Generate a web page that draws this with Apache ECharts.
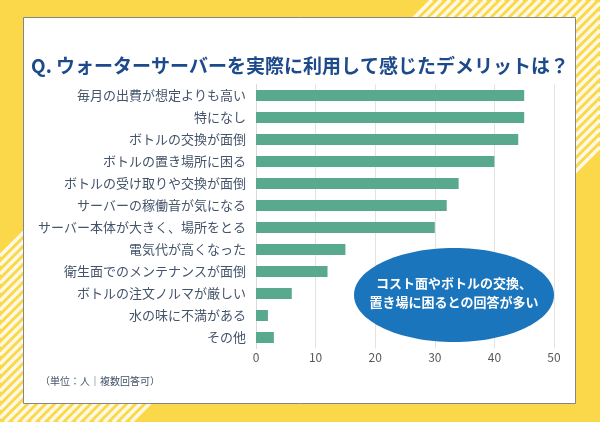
<!DOCTYPE html>
<html>
<head>
<meta charset="utf-8">
<script src="https://cdn.jsdelivr.net/npm/echarts@6/dist/echarts.min.js"></script>
<style>
html,body{margin:0;padding:0;background:#fad84a;}
#chart{width:600px;height:422px;}
</style>
</head>
<body>
<div id="chart"></div>
<script>
const titleText = 'Q. ウォーターサーバーを実際に利用して感じたデメリットは？';
const categories = [
  '毎月の出費が想定よりも高い',
  '特になし',
  'ボトルの交換が面倒',
  'ボトルの置き場所に困る',
  'ボトルの受け取りや交換が面倒',
  'サーバーの稼働音が気になる',
  'サーバー本体が大きく、場所をとる',
  '電気代が高くなった',
  '衛生面でのメンテナンスが面倒',
  'ボトルの注文ノルマが厳しい',
  '水の味に不満がある',
  'その他'
];
const values = [45, 45, 44, 40, 34, 32, 30, 15, 12, 6, 2, 3];
const axisTicks = [0, 10, 20, 30, 40, 50];
const calloutText = 'コスト面やボトルの交換、\n置き場に困るとの回答が多い';
const noteText = '（単位：人｜複数回答可）';

const FONT = '"Noto Sans CJK JP", "Noto Sans", sans-serif';

// decorative stripes
const stripes = [];
function addStripe(c, yMin, yMax) {
  const y0 = Math.max(yMin, c - 600, 0);
  const y1 = Math.min(yMax, c, 422);
  if (y1 <= y0) return;
  stripes.push({
    type: 'line', z: -9,
    shape: { x1: c - y0, y1: y0, x2: c - y1, y2: y1 },
    style: { stroke: 'rgba(255,255,255,0.85)', lineWidth: 3.6 },
    silent: true
  });
}
for (let c = 432; c <= 750; c += 9) addStripe(c, 0, 200);
for (let c = 256; c <= 556; c += 9) addStripe(c, 200, 422);

const chart = echarts.init(document.getElementById('chart'));
chart.setOption({
  backgroundColor: '#fad84a',
  animation: false,
  title: {
    text: titleText,
    left: 26, top: 51,
    textStyle: { fontFamily: FONT, fontSize: 19, fontWeight: 'bold', color: '#1c4a8a' }
  },
  grid: { left: 256, right: 46, top: 84.5, bottom: 73.5, containLabel: false },
  xAxis: {
    type: 'value', min: 0, max: axisTicks[axisTicks.length - 1], interval: 10,
    axisLine: { show: false }, axisTick: { show: false },
    splitLine: { lineStyle: { color: '#e3e3e3', width: 1 } },
    axisLabel: { margin: 3, fontFamily: FONT, fontSize: 12, color: '#595959' }
  },
  yAxis: {
    type: 'category', data: categories, inverse: true,
    axisLine: { show: true, lineStyle: { color: '#d9d9d9' } },
    axisTick: { show: false },
    axisLabel: { margin: 10, fontFamily: FONT, fontSize: 13, color: '#44546a' }
  },
  series: [{
    type: 'bar', data: values, barWidth: 11,
    itemStyle: { color: '#59a98e' }, silent: true
  }],
  graphic: [
    ...stripes,
    {
      type: 'rect', z: -8,
      shape: { x: 23.5, y: 17.5, width: 552, height: 386 },
      style: { fill: '#ffffff', stroke: '#858585', lineWidth: 1 },
      silent: true
    },
    {
      type: 'ellipse', z: 100,
      shape: { cx: 454, cy: 295, rx: 100, ry: 47 },
      style: { fill: '#1b75bc' }, silent: true
    },
    {
      type: 'text', z: 101, x: 454, y: 293,
      style: {
        text: calloutText, fill: '#ffffff', font: 'bold 13px ' + FONT,
        align: 'center', verticalAlign: 'middle', lineHeight: 19
      },
      silent: true
    },
    {
      type: 'text', z: 101, x: 40, y: 381,
      style: {
        text: noteText, fill: '#44546a', font: '10px ' + FONT,
        align: 'left', verticalAlign: 'middle'
      },
      silent: true
    }
  ]
});
</script>
</body>
</html>
